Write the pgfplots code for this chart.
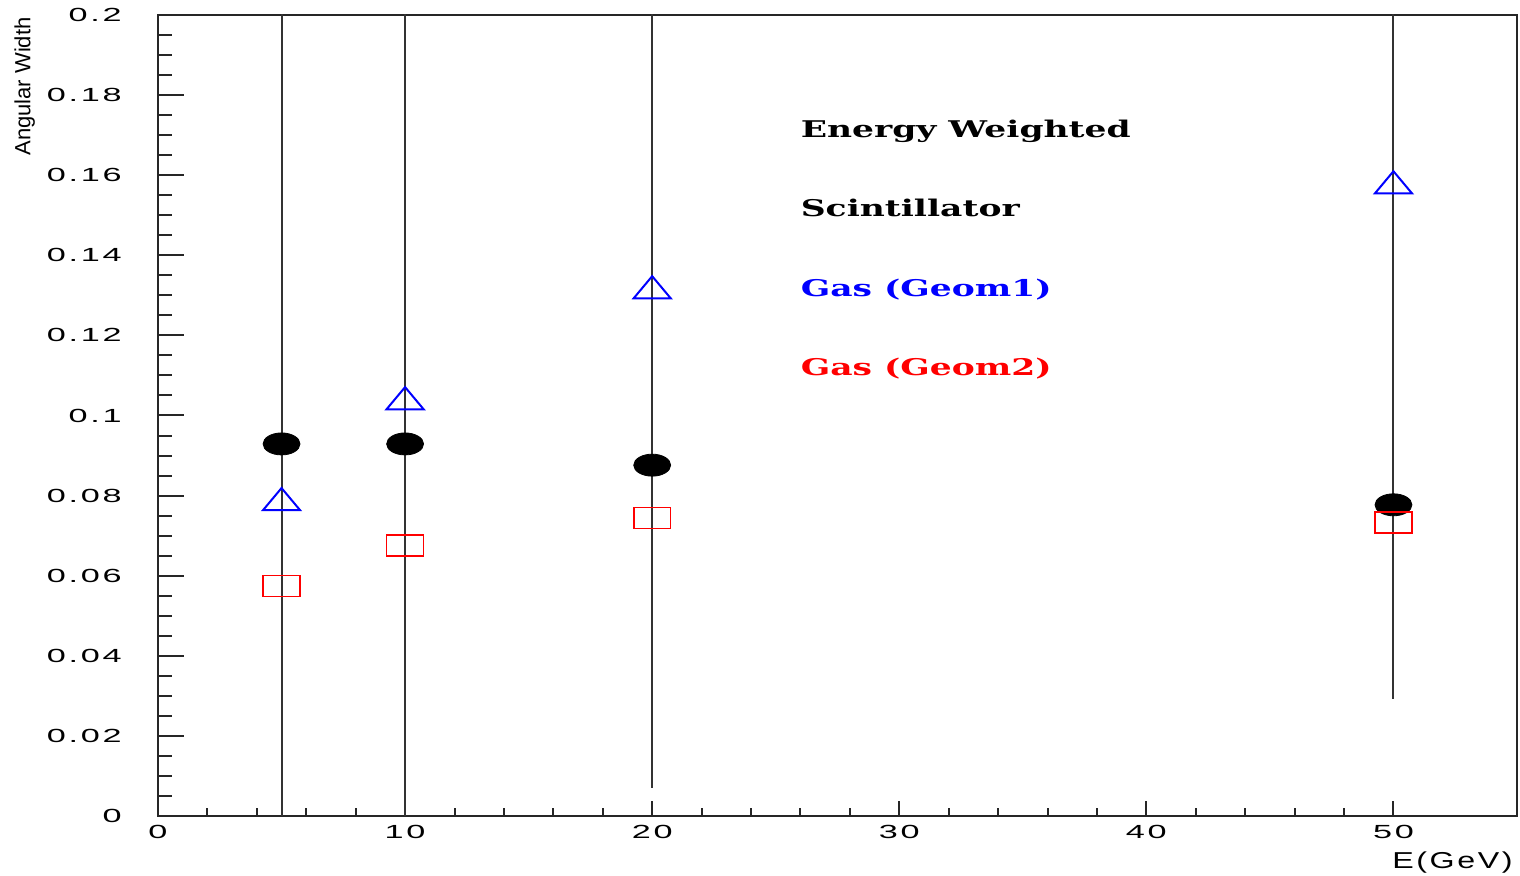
\documentclass[border=0pt]{standalone}
\usepackage{fontspec}
\usepackage{graphicx}
\usepackage{pgfplots}
\pgfplotsset{compat=1.18}
\setmainfont{Liberation Sans}
\newfontfamily\tickfont[LetterSpace=8]{Liberation Sans}
\newfontfamily\legfont{DejaVu Serif}
\newcommand\tf[1]{\scalebox{1.8}[1]{\fontsize{9.5bp}{11bp}\selectfont\tickfont #1}}
\newcommand\legtxt[2]{\scalebox{1.5}[1]{\fontsize{11.5bp}{13bp}\selectfont\legfont\bfseries\color{#1}#2}}

\begin{document}
\begin{tikzpicture}
\begin{axis}[
  scale only axis, width=679.5bp, height=400.5bp,
  xmin=0, xmax=55, ymin=0, ymax=0.2,
  xtick={0,10,20,30,40,50},
  xticklabels={\tf{0},\tf{10},\tf{20},\tf{30},\tf{40},\tf{50}},
  ytick={0,0.02,0.04,0.06,0.08,0.1,0.12,0.14,0.16,0.18,0.2},
  yticklabels={\tf{0},\tf{0.02},\tf{0.04},\tf{0.06},\tf{0.08},\tf{0.1},\tf{0.12},\tf{0.14},\tf{0.16},\tf{0.18},\tf{0.2}},
  minor x tick num=4, minor y tick num=3,
  tick align=inside, xtick pos=left, ytick pos=left,
  major tick length=13bp, minor tick length=7bp,
  xtick style={/pgfplots/major tick length=7.5bp,/pgfplots/minor tick length=4bp},
  every tick/.style={black!85, line width=1bp},
  axis line style={line width=1bp, black!85},
  yticklabel style={anchor=east, inner sep=0pt, xshift=-18bp},
  xticklabel style={anchor=north, inner sep=0pt, yshift=-4.5bp},
]
% vertical error bars (drawn first, behind markers)
\addplot[draw=none, mark=none,
  error bars/.cd, y dir=both, y explicit, error mark=none,
  error bar style={draw=black!80, line width=1bp}]
  coordinates {
    (5,0.078)  += (0,0.15) -= (0,0.09)
    (10,0.103) += (0,0.12) -= (0,0.12)
    (20,0.131) += (0,0.10) -= (0,0.124)
    (50,0.157) += (0,0.10) -= (0,0.1278)
  };
% Scintillator (black filled ellipses)
\addplot[only marks, mark=*, mark size=5.5bp,
  mark options={xscale=1.68, fill=black, draw=black}]
  coordinates {(5,0.0929) (10,0.0929) (20,0.0876) (50,0.0777)};
% Gas (Geom1) blue triangles
\addplot[only marks, mark=triangle, mark size=10.7bp, color=blue,
  mark options={yscale=0.69, line width=1bp}]
  coordinates {(5,0.0782) (10,0.1034) (20,0.1311) (50,0.1573)};
% Gas (Geom2) red squares
\addplot[only marks, mark=square, mark size=5.25bp, color=red,
  mark options={xscale=1.76, line width=0.8bp}]
  coordinates {(5,0.0574) (10,0.0675) (20,0.0744) (50,0.0733)};

\node[anchor=base west, inner sep=0] at (axis cs:26,0.1695) {\legtxt{black}{Energy Weighted}};
\node[anchor=base west, inner sep=0] at (axis cs:26,0.1496) {\legtxt{black}{Scintillator}};
\node[anchor=base west, inner sep=0] at (axis cs:26,0.1298) {\legtxt{blue}{Gas (Geom1)}};
\node[anchor=base west, inner sep=0] at (axis cs:26,0.1099) {\legtxt{red}{Gas (Geom2)}};

\coordinate (bl) at (rel axis cs:0,0);
\coordinate (tr) at (rel axis cs:1,1);
\coordinate (tl) at (rel axis cs:0,1);
\coordinate (br) at (rel axis cs:1,0);
\end{axis}
\node[rotate=90, anchor=north east, inner sep=0, font=\fontsize{11bp}{13bp}\selectfont]
  at ([xshift=-72bp,yshift=-1bp]tl) {Angular Width};
\node[anchor=north east, inner sep=0]
  at ([xshift=-2bp,yshift=-17.5bp]br) {\scalebox{1.4}[1]{\fontsize{11.5bp}{13bp}\selectfont\tickfont E(GeV)}};
\pgfresetboundingbox
\path[use as bounding box] ([xshift=-79bp,yshift=-30bp]bl) rectangle ([xshift=1.5bp,yshift=7.5bp]tr);
\end{tikzpicture}
\end{document}
